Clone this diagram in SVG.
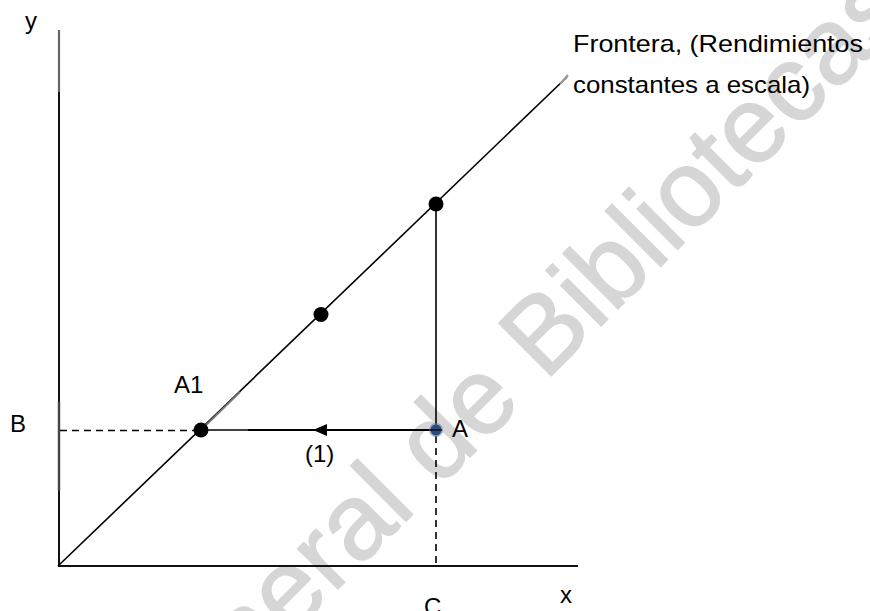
<svg xmlns="http://www.w3.org/2000/svg" width="870" height="611" viewBox="0 0 870 611">
  <style>
    .lbl { font-family: "Liberation Sans", Arial, sans-serif; font-size: 24px; fill: #000; }
    .ax { stroke: #111; stroke-width: 2; fill: none; }
    .ln { stroke: #000; stroke-width: 1.6; fill: none; }
    .dash { stroke: #000; stroke-width: 1.6; stroke-dasharray: 7 5; fill: none; }
    .dot { fill: #000; }
    .wm { font-family: "Liberation Sans", Arial, sans-serif; font-size: 108px; fill: #d6d6d6; stroke: #d6d6d6; stroke-width: 1.5; stroke-linejoin: round; }
  </style>
  <rect width="870" height="611" fill="#fff"/>

  <!-- watermark -->
  <g id="watermark">
    <text class="wm" transform="translate(146 781) rotate(-45)">General de Bibliotecas</text>
  </g>

  <!-- connectors -->
  <g id="connectors">
    <!-- axes -->
    <line class="ax" x1="59" y1="30" x2="59" y2="567"/>
    <line x1="59" y1="30" x2="59" y2="92" stroke="#666" stroke-width="2.2"/>
    <line x1="59" y1="402" x2="59" y2="491" stroke="#444" stroke-width="2.4"/>
    <line class="ax" x1="58" y1="566" x2="578" y2="566"/>
    <!-- frontier -->
    <line class="ln" x1="58" y1="566" x2="567" y2="77"/>
    <line x1="201" y1="430" x2="240" y2="392" stroke="#777" stroke-width="1.8"/>
    <line x1="560" y1="84" x2="568" y2="75" stroke="#999" stroke-width="2"/>
    <!-- vertical from A up to frontier -->
    <line class="ln" x1="436" y1="204" x2="436" y2="430"/>
    <!-- dashed drops -->
    <line class="dash" x1="436" y1="436" x2="436" y2="566"/>
    <line class="dash" x1="60" y1="430.5" x2="196" y2="430.5"/>
    <!-- horizontal movement (1) -->
    <line x1="201" y1="430" x2="250" y2="430" stroke="#000" stroke-width="1.4"/>
    <line x1="248" y1="430" x2="436" y2="430" stroke="#000" stroke-width="2"/>
    <polygon points="313,430 327,424 327,436" fill="#000"/>
  </g>

  <!-- nodes -->
  <g id="node-A1">
    <circle class="dot" cx="201" cy="430" r="7.5"/>
    <text class="lbl" x="174" y="393">A1</text>
  </g>
  <g id="node-mid">
    <circle class="dot" cx="321" cy="314.5" r="7.5"/>
  </g>
  <g id="node-top">
    <circle class="dot" cx="436" cy="204" r="7.5"/>
  </g>
  <g id="node-A">
    <circle cx="436" cy="430" r="7" fill="#6b82a6" opacity="0.6"/>
    <circle cx="436" cy="430" r="5.5" fill="#2e4d7e"/>
    <line x1="430" y1="430" x2="442" y2="430" stroke="#000" stroke-width="1.2"/>
    <text class="lbl" x="452" y="437">A</text>
  </g>

  <!-- labels -->
  <g id="labels">
    <text class="lbl" x="25" y="29">y</text>
    <text class="lbl" x="560" y="603">x</text>
    <text class="lbl" x="10" y="432">B</text>
    <text class="lbl" x="424" y="615">C</text>
    <text class="lbl" x="305" y="462">(1)</text>
    <text class="lbl" x="573" y="52" textLength="290" lengthAdjust="spacingAndGlyphs">Frontera, (Rendimientos</text>
    <text class="lbl" x="573" y="93" textLength="237" lengthAdjust="spacingAndGlyphs">constantes a escala)</text>
  </g>
</svg>
